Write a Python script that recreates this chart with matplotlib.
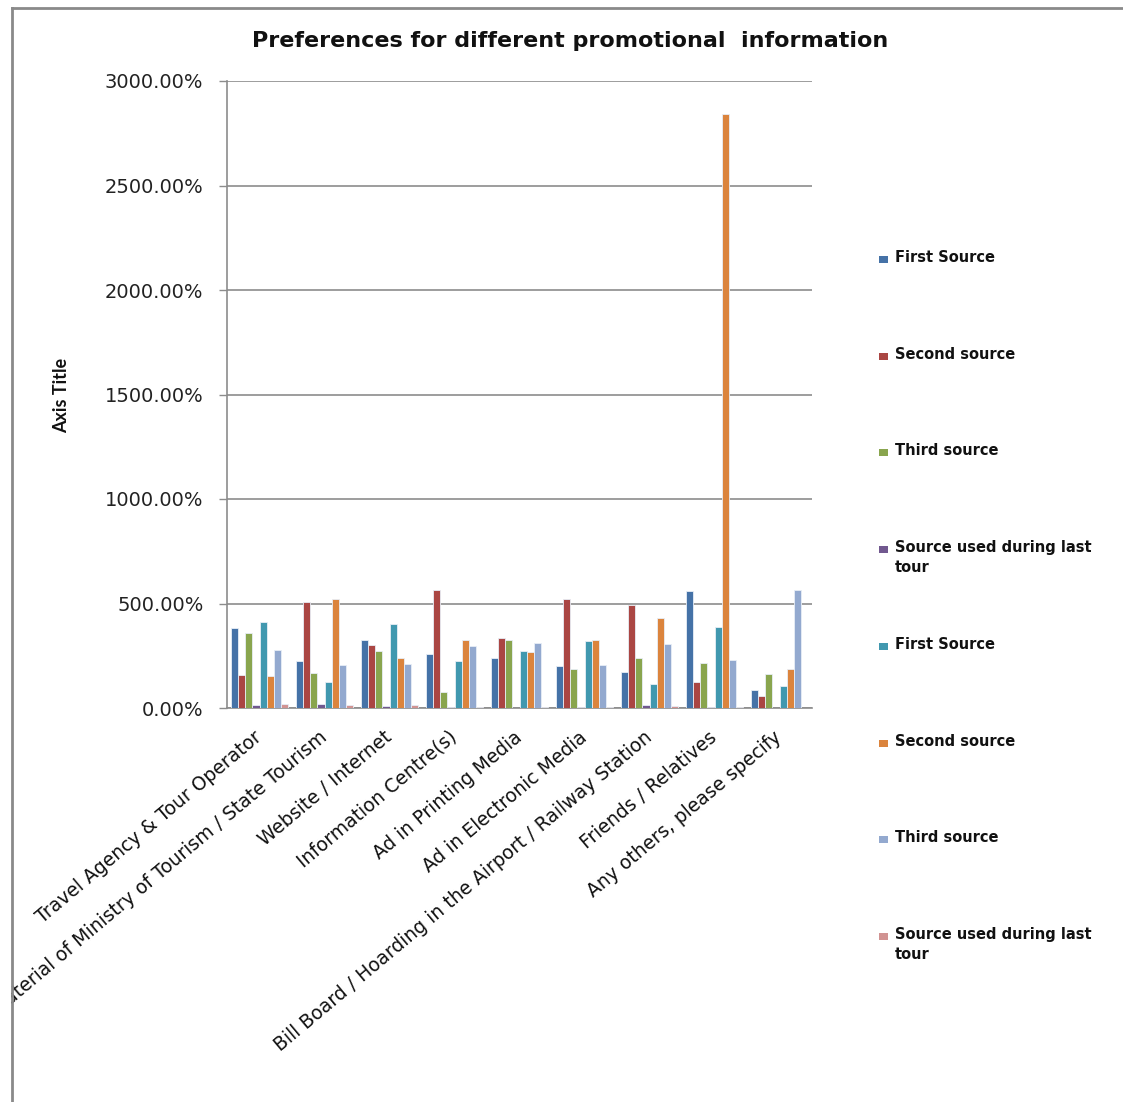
import matplotlib
matplotlib.use("Agg")
import matplotlib.pyplot as plt
import numpy as np
from matplotlib.patches import Rectangle
from matplotlib.lines import Line2D
from matplotlib.ticker import FuncFormatter

# ---- data ---------------------------------------------------------------
categories = ["Travel Agency & Tour Operator",
              "Promotional material of Ministry of Tourism / State Tourism",
              "Website / Internet",
              "Information Centre(s)",
              "Ad in Printing Media",
              "Ad in Electronic Media",
              "Bill Board / Hoarding in the Airport / Railway Station",
              "Friends / Relatives",
              "Any others, please specify"]

series_names = ["First Source", "Second source", "Third source",
                "Source used during last\ntour",
                "First Source", "Second source", "Third source",
                "Source used during last\ntour"]

first_a  = [384, 224, 326, 257, 238, 199, 170, 560, 84]
second_a = [159, 507, 301, 564, 336, 521, 494, 125, 58]
third_a  = [360, 169, 272, 77, 326, 185, 238, 214, 161]
last_a   = [13, 19, 10, 5, 2, 5, 14, 5, 1]
first_b  = [413, 125, 400, 224, 272, 320, 116, 386, 103]
second_b = [154, 521, 238, 326, 267, 326, 429, 2842, 185]
third_b  = [277, 204, 209, 296, 310, 204, 306, 228, 566]
last_b   = [19, 14, 14, 6, 3, 3, 10, 5, 1]

values = [first_a, second_a, third_a, last_a, first_b, second_b, third_b, last_b]
colors = ["#4572A7", "#AA4643", "#89A54E", "#71588F",
          "#4198AF", "#DB843D", "#93A9CF", "#D19392"]

yticks = [0, 500, 1000, 1500, 2000, 2500, 3000]

# ---- figure -------------------------------------------------------------
W, H = 1123, 1102
fig = plt.figure(figsize=(W / 100, H / 100), dpi=100)
fig.patch.set_facecolor("white")

def fx(px):
    return px / W

def fy(py):
    return 1 - py / H

ax = fig.add_axes([fx(227), fy(708), fx(812) - fx(227), fy(81) - fy(708)])

x = np.arange(len(categories))
bw = 0.11
for j, (vals, c) in enumerate(zip(values, colors)):
    ax.bar(x + (j - 3.5) * bw, vals, width=bw, color=c,
           edgecolor="#e8eef6", linewidth=0.6, zorder=3)

ax.set_xlim(-0.5, len(categories) - 0.5)
ax.set_ylim(0, 3000)
ax.set_yticks(yticks)
ax.yaxis.set_major_formatter(FuncFormatter(lambda v, p: f"{v:.2f}%"))
ax.grid(axis="y", color="#8c8c8c", linewidth=1.2, zorder=0)
ax.set_axisbelow(True)

for s in ["top", "right"]:
    ax.spines[s].set_visible(False)
for s in ["left", "bottom"]:
    ax.spines[s].set_color("#8c8c8c")
    ax.spines[s].set_linewidth(1.2)

ax.tick_params(axis="y", direction="out", length=6, width=1, color="#8c8c8c",
               pad=11, labelsize=14, labelcolor="#222222")
ax.tick_params(axis="x", length=0, pad=14)
for lab in ax.get_yticklabels():
    lab.set_fontfamily("DejaVu Sans")

ax.set_xticks(x)
ax.set_xticklabels(categories, rotation=40, ha="right", va="top",
                   fontsize=13.5, fontfamily="DejaVu Sans", color="#111111")
# nudge labels so their upper end sits just right of each group centre
offset = matplotlib.transforms.ScaledTranslation(6 / 100, 0, fig.dpi_scale_trans)
for lab in ax.get_xticklabels():
    lab.set_transform(lab.get_transform() + offset)

# ---- titles -------------------------------------------------------------
fig.text(fx(570), fy(41), "Preferences for different promotional  information",
         ha="center", va="center", fontsize=16, fontweight="bold",
         fontfamily="DejaVu Sans", color="#111111")
fig.text(fx(62), fy(395), "Axis Title", rotation=90, ha="center", va="center",
         fontsize=13, fontweight="bold", fontfamily="Lato", color="#111111")

# ---- legend -------------------------------------------------------------
ly0, lstep = 259, 96.7
for j, (name, c) in enumerate(zip(series_names, colors)):
    yy = ly0 + j * lstep
    fig.add_artist(Rectangle((fx(879), fy(yy + 4)), fx(9), 7 / H,
                             transform=fig.transFigure, facecolor=c,
                             edgecolor="none"))
    fig.text(fx(895), fy(yy - 9), name, ha="left", va="top",
             fontsize=10.5, fontweight="bold", fontfamily="DejaVu Sans",
             color="#111111", linespacing=1.4)

# ---- chart frame --------------------------------------------------------
fig.add_artist(Rectangle((0, 0), fx(11), 1, transform=fig.transFigure,
                         facecolor="white", edgecolor="none", zorder=10))
fig.add_artist(Line2D([fx(12), fx(12)], [0, fy(8)], transform=fig.transFigure,
                      color="#8a8a8a", linewidth=2, zorder=11))
fig.add_artist(Line2D([fx(12), 1], [fy(8), fy(8)], transform=fig.transFigure,
                      color="#8a8a8a", linewidth=2, zorder=11))

fig.savefig("out.png", dpi=100, facecolor="white")
